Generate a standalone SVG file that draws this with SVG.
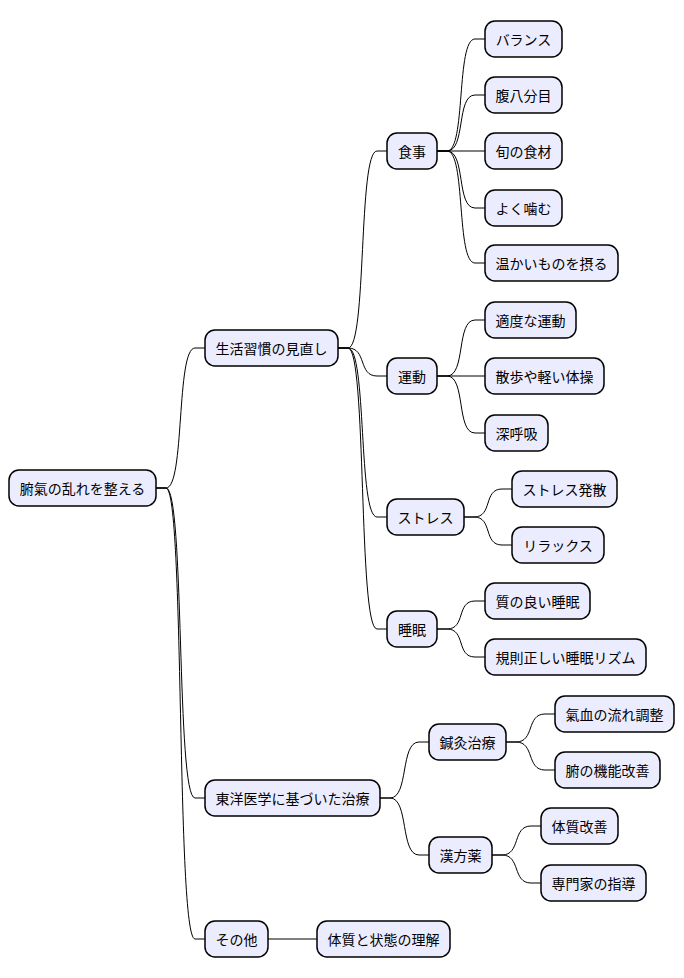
<svg xmlns="http://www.w3.org/2000/svg" width="684" height="978" viewBox="0 0 684 978">
<style>
.n rect{fill:#ececff;stroke:#000;stroke-width:1.5}
.n text{font-family:"Noto Sans CJK JP","Noto Sans",sans-serif;font-size:14px;fill:#000;dominant-baseline:central}
#edges path{fill:none;stroke:#000;stroke-width:1}
</style>
<rect width="684" height="978" fill="#fff"/>
<g id="edges">
<path d="M156,488 h10 C185,488 176,348 195,348 H205"/>
<path d="M156,488 h10 C185,488 176,798 195,798 H205"/>
<path d="M156,488 h10 C185,488 176,939 195,939 H205"/>
<path d="M338,348 h10 C367,348 358,151 377,151 H387"/>
<path d="M338,348 h10 C367,348 358,376 377,376 H387"/>
<path d="M338,348 h10 C367,348 358,517 377,517 H387"/>
<path d="M338,348 h10 C367,348 358,629 377,629 H387"/>
<path d="M437,151 h10 C466,151 456,39 475,39 H485"/>
<path d="M437,151 h10 C466,151 456,95 475,95 H485"/>
<path d="M437,151 H485"/>
<path d="M437,151 h10 C466,151 456,208 475,208 H485"/>
<path d="M437,151 h10 C466,151 456,263 475,263 H485"/>
<path d="M437,376 h10 C466,376 456,320 475,320 H485"/>
<path d="M437,376 H485"/>
<path d="M437,376 h10 C466,376 456,433 475,433 H485"/>
<path d="M464,517 h10 C493,517 483,489 502,489 H512"/>
<path d="M464,517 h10 C493,517 483,545 502,545 H512"/>
<path d="M437,629 h10 C466,629 456,601 475,601 H485"/>
<path d="M437,629 h10 C466,629 456,657 475,657 H485"/>
<path d="M380,798 h10 C409,798 400,742 419,742 H429"/>
<path d="M380,798 h10 C409,798 400,855 419,855 H429"/>
<path d="M506,742 h10 C535,742 526,714 545,714 H555"/>
<path d="M506,742 h10 C535,742 526,770 545,770 H555"/>
<path d="M492,855 h10 C521,855 512,826 531,826 H541"/>
<path d="M492,855 h10 C521,855 512,883 531,883 H541"/>
<path d="M268,939 H317"/>
</g>
<g id="root" class="n"><rect x="9" y="470" width="147" height="36" rx="10"/><text x="82.5" y="488" text-anchor="middle">腑氣の乱れを整える</text></g>
<g id="n1" class="n"><rect x="205" y="330" width="133" height="36" rx="10"/><text x="271.5" y="348" text-anchor="middle">生活習慣の見直し</text></g>
<g id="n2" class="n"><rect x="205" y="780" width="175" height="36" rx="10"/><text x="292.5" y="798" text-anchor="middle">東洋医学に基づいた治療</text></g>
<g id="n3" class="n"><rect x="205" y="921" width="63" height="36" rx="10"/><text x="236.5" y="939" text-anchor="middle">その他</text></g>
<g id="n11" class="n"><rect x="387" y="133" width="50" height="36" rx="10"/><text x="412" y="151" text-anchor="middle">食事</text></g>
<g id="n12" class="n"><rect x="387" y="358" width="50" height="36" rx="10"/><text x="412" y="376" text-anchor="middle">運動</text></g>
<g id="n13" class="n"><rect x="387" y="499" width="77" height="36" rx="10"/><text x="425.5" y="517" text-anchor="middle">ストレス</text></g>
<g id="n14" class="n"><rect x="387" y="611" width="50" height="36" rx="10"/><text x="412" y="629" text-anchor="middle">睡眠</text></g>
<g id="a1" class="n"><rect x="485" y="21" width="77" height="36" rx="10"/><text x="523.5" y="39" text-anchor="middle">バランス</text></g>
<g id="a2" class="n"><rect x="485" y="77" width="77" height="36" rx="10"/><text x="523.5" y="95" text-anchor="middle">腹八分目</text></g>
<g id="a3" class="n"><rect x="485" y="133" width="77" height="36" rx="10"/><text x="523.5" y="151" text-anchor="middle">旬の食材</text></g>
<g id="a4" class="n"><rect x="485" y="190" width="77" height="36" rx="10"/><text x="523.5" y="208" text-anchor="middle">よく噛む</text></g>
<g id="a5" class="n"><rect x="485" y="245" width="133" height="36" rx="10"/><text x="551.5" y="263" text-anchor="middle">温かいものを摂る</text></g>
<g id="b1" class="n"><rect x="485" y="302" width="91" height="36" rx="10"/><text x="530.5" y="320" text-anchor="middle">適度な運動</text></g>
<g id="b2" class="n"><rect x="485" y="358" width="119" height="36" rx="10"/><text x="544.5" y="376" text-anchor="middle">散歩や軽い体操</text></g>
<g id="b3" class="n"><rect x="485" y="415" width="63" height="36" rx="10"/><text x="516.5" y="433" text-anchor="middle">深呼吸</text></g>
<g id="c1" class="n"><rect x="512" y="471" width="105" height="36" rx="10"/><text x="564.5" y="489" text-anchor="middle">ストレス発散</text></g>
<g id="c2" class="n"><rect x="512" y="527" width="92" height="36" rx="10"/><text x="558" y="545" text-anchor="middle">リラックス</text></g>
<g id="d1" class="n"><rect x="485" y="583" width="105" height="36" rx="10"/><text x="537.5" y="601" text-anchor="middle">質の良い睡眠</text></g>
<g id="d2" class="n"><rect x="485" y="639" width="161" height="36" rx="10"/><text x="565.5" y="657" text-anchor="middle">規則正しい睡眠リズム</text></g>
<g id="n21" class="n"><rect x="429" y="724" width="77" height="36" rx="10"/><text x="467.5" y="742" text-anchor="middle">鍼灸治療</text></g>
<g id="n22" class="n"><rect x="429" y="837" width="63" height="36" rx="10"/><text x="460.5" y="855" text-anchor="middle">漢方薬</text></g>
<g id="e1" class="n"><rect x="555" y="696" width="119" height="36" rx="10"/><text x="614.5" y="714" text-anchor="middle">氣血の流れ調整</text></g>
<g id="e2" class="n"><rect x="555" y="752" width="105" height="36" rx="10"/><text x="607.5" y="770" text-anchor="middle">腑の機能改善</text></g>
<g id="f1" class="n"><rect x="541" y="808" width="77" height="36" rx="10"/><text x="579.5" y="826" text-anchor="middle">体質改善</text></g>
<g id="f2" class="n"><rect x="541" y="865" width="105" height="36" rx="10"/><text x="593.5" y="883" text-anchor="middle">専門家の指導</text></g>
<g id="g1" class="n"><rect x="317" y="921" width="133" height="36" rx="10"/><text x="383.5" y="939" text-anchor="middle">体質と状態の理解</text></g>
</svg>
